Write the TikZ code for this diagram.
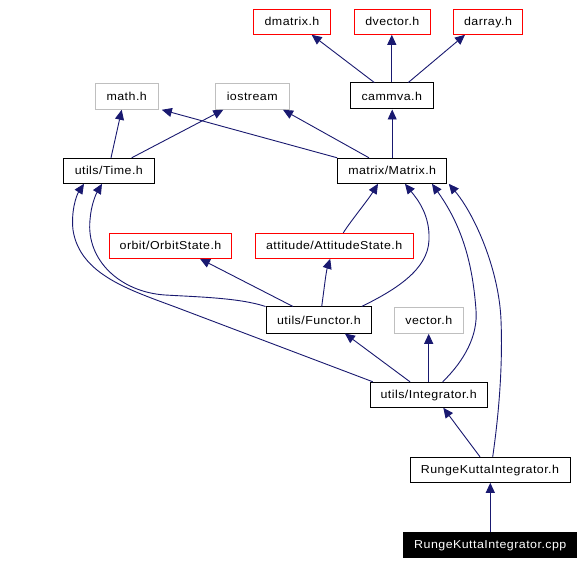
\documentclass[tikz,border=0pt]{standalone}
\usepackage{fontspec}
\setmainfont{Liberation Sans}
\newfontfamily\lblfont[LetterSpace=4,FakeStretch=1.08]{Liberation Sans}
\usetikzlibrary{arrows.meta}
\definecolor{edgecol}{HTML}{191970}
\definecolor{missingcol}{HTML}{FF0000}
\definecolor{externcol}{HTML}{BFBFBF}
\begin{document}
\begin{tikzpicture}[x=1pt,y=-1pt,
  box/.style={draw=black, line width=1pt, rectangle, inner sep=0pt,
    minimum height=25pt, font=\lblfont\fontsize{11.5}{13}\selectfont,
    text height=8.2pt, text depth=0pt, anchor=center},
  redbox/.style={box, draw=missingcol},
  greybox/.style={box, draw=externcol},
  mainbox/.style={box, fill=black, text=white},
  edge/.style={draw=edgecol, line width=0.9pt,
    -{Triangle[length=10pt,width=9pt]}, fill=none},
]
\path[fill=white, use as bounding box] (0,0) rectangle (584,564);

% nodes
\node[redbox, minimum width=77.4pt] (dmatrix) at (292,21.8) {dmatrix.h};
\node[redbox, minimum width=76pt] (dvector) at (392.3,21.8) {dvector.h};
\node[redbox, minimum width=69.4pt] (darray) at (488,21.8) {darray.h};
\node[greybox, minimum width=63.3pt, minimum height=26pt] (mathh) at (126.7,96.3) {math.h};
\node[greybox, minimum width=74.3pt, minimum height=26pt] (iostream) at (252.2,96.3) {iostream};
\node[box, minimum width=83pt, minimum height=26pt] (cammva) at (391.8,96) {cammva.h};
\node[box, minimum width=91pt] (time) at (108.8,170.8) {utils/Time.h};
\node[box, minimum width=109pt] (matrix) at (392.2,170.8) {matrix/Matrix.h};
\node[redbox, minimum width=122.4pt] (orbit) at (170.5,245.8) {orbit/OrbitState.h};
\node[redbox, minimum width=158.3pt] (attitude) at (334.2,245.8) {attitude/AttitudeState.h};
\node[box, minimum width=105.7pt, minimum height=26pt] (functor) at (318.9,320) {utils/Functor.h};
\node[greybox, minimum width=69pt, minimum height=26pt] (vector) at (428.8,320.3) {vector.h};
\node[box, minimum width=117.3pt] (integ) at (428.7,394.8) {utils/Integrator.h};
\node[box, minimum width=160pt] (rkh) at (490,469.8) {RungeKuttaIntegrator.h};
\node[mainbox, minimum width=172.7pt] (rkcpp) at (490.3,544.5) {RungeKuttaIntegrator.cpp};

% edges
\draw[edge] ([xshift=-17.5pt]cammva.north) -- ([xshift=19.7pt]dmatrix.south);
\draw[edge] (cammva.north) -- (cammva.north |- dvector.south);
\draw[edge] ([xshift=16.5pt]cammva.north) -- ([xshift=-23pt]darray.south);
\draw[edge] (matrix.north) -- (matrix.north |- cammva.south);
\draw[edge] (matrix.north west) -- ([xshift=3pt]mathh.south east);
\draw[edge] ([xshift=-23.2pt]matrix.north) -- ([xshift=30.8pt]iostream.south);
\draw[edge] ([xshift=2.2pt]time.north) -- ([xshift=-5pt]mathh.south);
\draw[edge] ([xshift=22.9pt]time.north) -- ([xshift=-28.9pt]iostream.south);
\draw[edge] ([xshift=9.1pt]attitude.north) .. controls (350,222) and (368,200) .. ([xshift=-14.2pt]matrix.south);
\draw[edge] ([xshift=42.8pt]functor.north) .. controls (395,290) and (428,270) .. (429,240)
  .. controls (430,215) and (418,200) .. ([xshift=12.8pt]matrix.south);
\draw[edge] ([xshift=-25.9pt]functor.north) -- ([xshift=29.5pt]orbit.south);
\draw[edge] ([xshift=2.8pt]functor.north) .. controls (324,290) and (326,272) .. ([xshift=-4pt]attitude.south);
\draw[edge] (functor.north west) .. controls (240,298) and (200,297) .. (165,295)
  .. controls (120,292) and (86,260) .. (90,220)
  .. controls (91,205) and (96,194) .. ([xshift=-6.8pt]time.south);
\draw[edge] ([xshift=3.3pt]integ.north west) -- (178,308)
  .. controls (130,290) and (80,275) .. (73,230)
  .. controls (71,212) and (76,196) .. ([xshift=-24.8pt]time.south);
\draw[edge] ([xshift=-18.7pt]integ.north) -- ([xshift=26pt]functor.south);
\draw[edge] (integ.north) -- (integ.north |- vector.south);
\draw[edge] ([xshift=14pt]integ.north) .. controls (465,360) and (478,335) .. (476,310)
  .. controls (473,270) and (465,230) .. ([xshift=39.8pt]matrix.south);
\draw[edge] ([xshift=-10pt]rkh.north) -- ([xshift=14.6pt]integ.south);
\draw[edge] ([xshift=2.7pt]rkh.north) .. controls (498,420) and (503,370) .. (501,320)
  .. controls (499,270) and (475,215) .. ([xshift=1.6pt]matrix.south east);
\draw[edge] (rkcpp.north) -- (rkcpp.north |- rkh.south);
\end{tikzpicture}
\end{document}
